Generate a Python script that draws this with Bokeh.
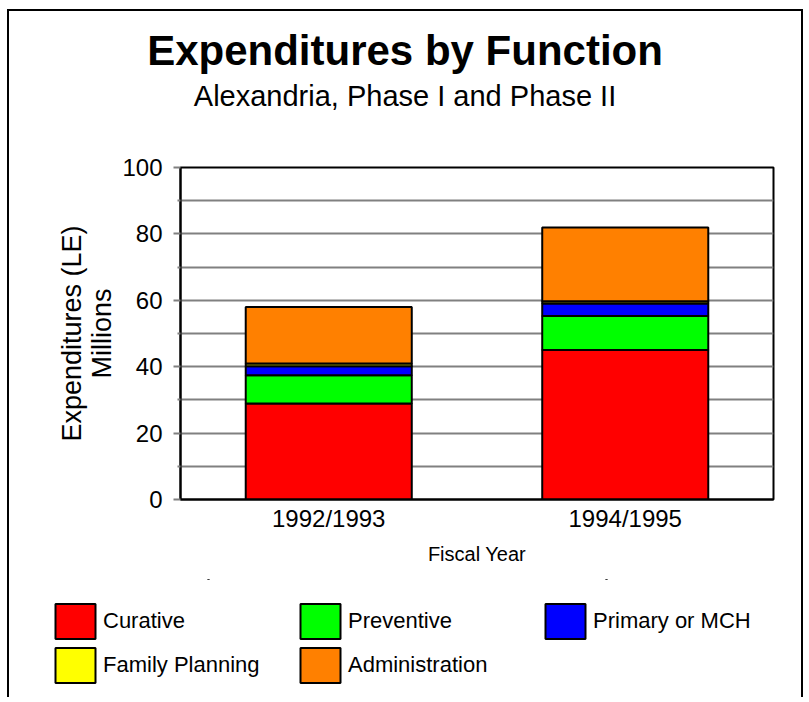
from bokeh.plotting import figure
from bokeh.models import FactorRange, Range1d, Legend, LegendItem, Label, FixedTicker
from bokeh.embed import file_html
from bokeh.resources import INLINE

years = ["1992/1993", "1994/1995"]
categories = ["Curative", "Preventive", "Primary or MCH", "Family Planning", "Administration"]
curative = [28.9, 45.0]
preventive = [8.5, 10.3]
primary = [2.7, 3.7]
family_planning = [0.9, 0.7]
administration = [17.0, 22.2]
colors = ["#FF0000", "#00FF00", "#0000FF", "#FFFF00", "#FF8000"]
y_ticks = [0, 20, 40, 60, 80, 100]
y_minor_ticks = [10, 30, 50, 70, 90]
title_text = "Expenditures by Function"
subtitle_text = "Alexandria, Phase I and Phase II"

data = {"year": years, "Curative": curative, "Preventive": preventive,
        "Primary or MCH": primary, "Family Planning": family_planning,
        "Administration": administration}

W = 796
FONT = "Liberation Sans"


def bare(fig):
    fig.outline_line_color = None
    fig.grid.visible = False
    fig.background_fill_color = "white"
    fig.border_fill_color = "white"


# ---- title strip ----
t = figure(width=W, height=140, output_backend="svg", toolbar_location=None,
           x_axis_location=None, y_axis_location=None,
           min_border=0, min_border_left=0, min_border_right=0,
           min_border_top=0, min_border_bottom=0)
bare(t)
t.styles = {"border-top": "2px solid black", "border-left": "2px solid black",
            "border-right": "2px solid black", "margin-left": "7px", "margin-top": "9px"}
t.add_layout(Label(x=395.5, y=101, x_units="screen", y_units="screen", text=title_text,
                   text_align="center", text_baseline="alphabetic", text_font=FONT,
                   text_font_size="42px", text_font_style="bold", text_color="black"))
t.add_layout(Label(x=395.5, y=56, x_units="screen", y_units="screen", text=subtitle_text,
                   text_align="center", text_baseline="alphabetic", text_font=FONT,
                   text_font_size="29px", text_color="black"))

# ---- main chart ----
p = figure(x_range=FactorRange(*years, range_padding=0), y_range=Range1d(0, 100),
           width=W, height=430, output_backend="svg", toolbar_location=None,
           min_border_left=171, min_border_right=32, min_border_top=18, min_border_bottom=80)
p.styles = {"border-left": "2px solid black", "border-right": "2px solid black",
            "margin-left": "7px"}

rs = p.vbar_stack(categories, x="year", width=0.56, color=colors, source=data,
                  line_color="black", line_width=2)

p.outline_line_color = "black"
p.outline_line_width = 2
p.background_fill_color = "white"

p.xgrid.visible = False
p.ygrid.grid_line_color = "#808080"
p.ygrid.grid_line_width = 2
p.ygrid.minor_grid_line_color = "#808080"
p.ygrid.minor_grid_line_width = 2

p.yaxis.ticker = FixedTicker(ticks=y_ticks, minor_ticks=y_minor_ticks)
p.yaxis.axis_line_color = "black"
p.yaxis.axis_line_width = 2
p.yaxis.major_tick_line_color = "#808080"
p.yaxis.major_tick_line_width = 2
p.yaxis.major_tick_out = 7
p.yaxis.major_tick_in = 0
p.yaxis.minor_tick_line_color = "#808080"
p.yaxis.minor_tick_line_width = 2
p.yaxis.minor_tick_out = 3
p.yaxis.minor_tick_in = 0
p.yaxis.major_label_standoff = 11
p.yaxis.major_label_text_font = FONT
p.yaxis.major_label_text_font_size = "24px"
p.yaxis.major_label_text_color = "black"
p.yaxis.axis_label = "Expenditures (LE)\nMillions"
p.yaxis.axis_label_text_font = FONT
p.yaxis.axis_label_text_font_size = "27px"
p.yaxis.axis_label_text_font_style = "normal"
p.yaxis.axis_label_text_color = "black"
p.yaxis.axis_label_text_align = "center"
p.yaxis.axis_label_text_line_height = 1.0
p.yaxis.axis_label_standoff = 2

p.xaxis.axis_line_color = "black"
p.xaxis.axis_line_width = 2
p.xaxis.major_tick_out = 0
p.xaxis.major_tick_in = 0
p.xaxis.minor_tick_out = 0
p.xaxis.major_label_standoff = 5
p.xaxis.major_label_text_font = FONT
p.xaxis.major_label_text_font_size = "24px"
p.xaxis.major_label_text_color = "black"
p.xaxis.axis_label = "Fiscal Year"
p.xaxis.axis_label_text_font = FONT
p.xaxis.axis_label_text_font_size = "20px"
p.xaxis.axis_label_text_font_style = "normal"
p.xaxis.axis_label_text_color = "black"
p.xaxis.axis_label_standoff = 8

# ---- legend strip (same series, plotted outside its visible range; only the legend shows) ----
lf = figure(x_range=FactorRange(*years), y_range=Range1d(-300, -200),
            width=W, height=118, output_backend="svg", toolbar_location=None,
            x_axis_location=None, y_axis_location=None,
            min_border=0, min_border_left=0, min_border_right=0,
            min_border_top=0, min_border_bottom=0)
bare(lf)
lf.styles = {"border-left": "2px solid black", "border-right": "2px solid black",
             "margin-left": "7px"}
lrs = lf.vbar_stack(categories, x="year", width=0, color=colors, source=data,
                    line_color="black", line_width=2)
legend = Legend(items=[LegendItem(label=c, renderers=[r]) for c, r in zip(categories, lrs)],
                location=(41, 10), orientation="horizontal", ncols=3,
                glyph_width=50, glyph_height=44, label_standoff=3, label_width=192,
                spacing=0, padding=0, margin=0, border_line_alpha=0,
                background_fill_alpha=0, label_text_font=FONT,
                label_text_font_size="22px", label_text_color="black")
lf.add_layout(legend, "center")

open("out.html", "w").write(file_html([t, p, lf], INLINE))
